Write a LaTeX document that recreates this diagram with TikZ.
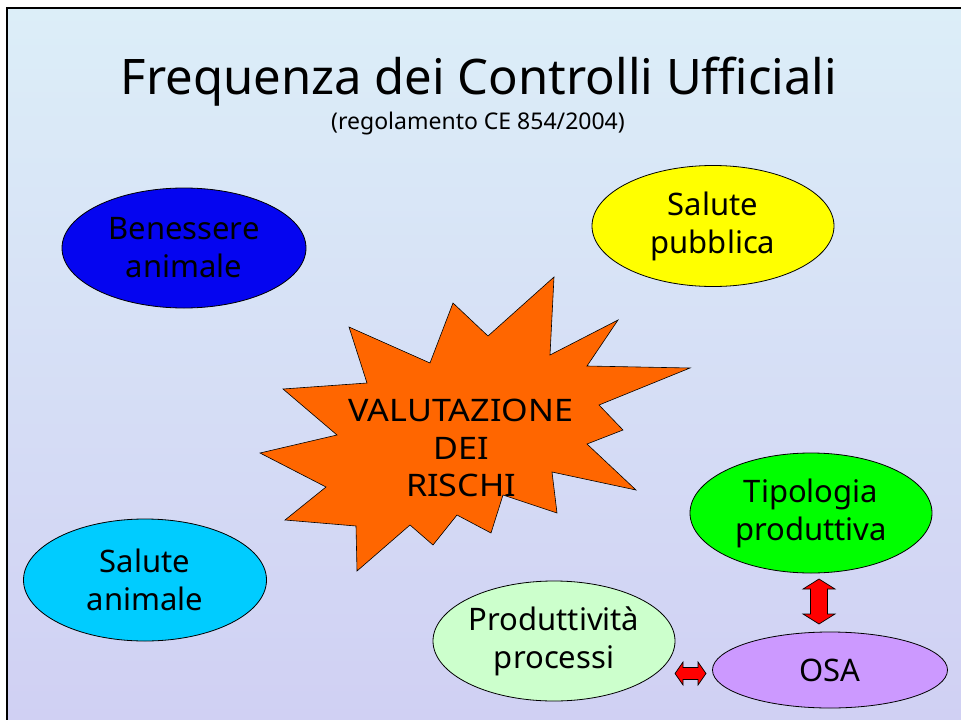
\documentclass[tikz,border=0pt]{standalone}
\usepackage{fontspec}
\setmainfont{Noto Sans}
\usetikzlibrary{shapes.geometric}
\definecolor{bgtop}{HTML}{DCEEF8}
\definecolor{bgbot}{HTML}{D0D0F3}
\definecolor{cblue}{HTML}{0505F0}
\definecolor{cyel}{HTML}{FFFF00}
\definecolor{ccyan}{HTML}{00CCFF}
\definecolor{cgreen}{HTML}{00FF00}
\definecolor{clgreen}{HTML}{CCFFCC}
\definecolor{clav}{HTML}{CC99FF}
\definecolor{corange}{HTML}{FF6600}
\tikzset{
  bubble/.style={ellipse, draw=black, line width=0.8, inner sep=0pt, align=center,
    font=\fontsize{31}{38}\selectfont},
  arr/.style={draw=black, fill=red, line width=0.7, line join=miter}
}
\begin{document}
\begin{tikzpicture}[x=1pt,y=-1pt]
\useasboundingbox (0,0) rectangle (961,720);
\fill[white] (0,0) rectangle (961,720);
\shade[top color=bgtop, bottom color=bgbot] (8,9) rectangle (961,720);
\draw[line width=2] (7,720) -- (7,8) -- (961,8);

\node (title) at (479,82) {\fontsize{49}{54}\selectfont Frequenza dei Controlli Ufficiali};
\node (sub) at (478,124) {\fontsize{23}{26}\selectfont (regolamento CE 854/2004)};

\node[bubble, fill=cblue, minimum width=244, minimum height=120] (ben) at (184,248) {Benessere\\animale};
\node[bubble, fill=cyel, minimum width=242, minimum height=121] (sp) at (713,226) {Salute\\pubblica};
\node[bubble, fill=ccyan, minimum width=243, minimum height=122] (sa) at (145,580) {Salute\\animale};
\node[bubble, fill=cgreen, minimum width=242, minimum height=120] (tip) at (811,513) {Tipologia\\produttiva};
\node[bubble, fill=clgreen, minimum width=242, minimum height=120] (prod) at (554,641) {Produttività\\processi};
\node[bubble, fill=clav, minimum width=235, minimum height=76] (osa) at (830,670) {OSA};

\draw[fill=corange, line width=0.6] (554,277) -- (550,355) -- (618,320) -- (587,366) -- (690,368)
  -- (599,405) -- (623,430) -- (587,444) -- (636,490) -- (552,472) -- (557,513)
  -- (503,495) -- (491,533) -- (457,515) -- (433,545) -- (410,525) -- (357,571)
  -- (356,526) -- (285,520) -- (326,487) -- (260,453) -- (337,435) -- (283,389)
  -- (367,383) -- (349,327) -- (430,363) -- (453,303) -- (488,336) -- cycle;
\node[align=center, font=\fontsize{31}{37.5}\selectfont\addfontfeature{FakeStretch=1.1}] (val) at (461,448) {VALUTAZIONE\\DEI\\RISCHI};

\draw[arr] (819,579) -- (835,589) -- (827.5,589) -- (827.5,614) -- (835,614) -- (819,624)
  -- (803,614) -- (810.5,614) -- (810.5,589) -- (803,589) -- cycle;
\draw[arr] (675,673.5) -- (683,662) -- (683,667.5) -- (698,667.5) -- (698,662) -- (706,673.5)
  -- (698,685) -- (698,679.5) -- (683,679.5) -- (683,685) -- cycle;
\end{tikzpicture}
\end{document}
